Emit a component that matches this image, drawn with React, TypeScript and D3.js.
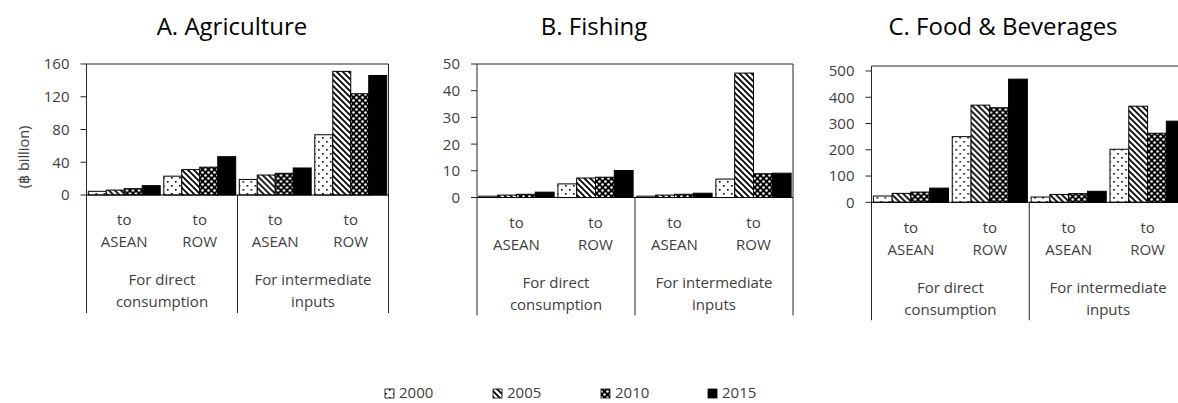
import React from "react";
import * as d3 from "d3";

const years = ["2000", "2005", "2010", "2015"];
const subCategories = ["to ASEAN (direct)", "to ROW (direct)", "to ASEAN (inter)", "to ROW (inter)"];
const subLabels = [["to", "ASEAN"], ["to", "ROW"], ["to", "ASEAN"], ["to", "ROW"]];
const groupLabels = [["For direct", "consumption"], ["For intermediate", "inputs"]];

const agricultureValues = [
  [4.5, 6, 7.7, 11.4],
  [23, 31, 34, 46.8],
  [19, 24.4, 26.5, 33],
  [73.6, 151, 123.7, 146],
];
const fishingValues = [
  [0.5, 0.9, 1.2, 2.0],
  [5.1, 7.3, 7.6, 10.1],
  [0.5, 0.9, 1.2, 1.6],
  [6.9, 46.6, 8.9, 9.1],
];
const foodValues = [
  [24, 34, 39, 54],
  [250, 370, 360, 469],
  [20, 30, 33, 42],
  [202, 366, 263, 309],
];

const agricultureTicks = [0, 40, 80, 120, 160];
const fishingTicks = [0, 10, 20, 30, 40, 50];
const foodTicks = [0, 100, 200, 300, 400, 500];

const panelTitles = ["A. Agriculture", "B. Fishing", "C. Food & Beverages"];
const yAxisLabel = "(฿ billion)";

const FONT = "'Open Sans', 'DejaVu Sans', sans-serif";

const panels = [
  { title: panelTitles[0], values: agricultureValues, ticks: agricultureTicks, left: 86.5, right: 388.5, frameTop: 64, yZero: 195, yMaxPx: 64, titleX: 232 },
  { title: panelTitles[1], values: fishingValues, ticks: fishingTicks, left: 477, right: 793, frameTop: 64, yZero: 197.5, yMaxPx: 64, titleX: 594 },
  { title: panelTitles[2], values: foodValues, ticks: foodTicks, left: 871.5, right: 1187, frameTop: 66, yZero: 202.3, yMaxPx: 71, titleX: 1003 },
];

const fills = ["url(#p2000)", "url(#p2005)", "url(#p2010)", "#000"];

function Panel({ p }: { p: any }) {
  const x0 = d3.scaleBand<string>().domain(subCategories).range([p.left, p.right]).paddingInner(0).paddingOuter(0);
  const x1 = d3.scaleBand<string>().domain(years).range([0, x0.bandwidth()]).paddingInner(0).paddingOuter(0.1);
  const yMax = p.ticks[p.ticks.length - 1];
  const y = d3.scaleLinear().domain([0, yMax]).range([p.yZero, p.yMaxPx]);
  const bottom = p.yZero + 118;
  const mid = (p.left + p.right) / 2;
  const lineColor = "#262626";
  const labelSize = 15;
  return (
    <g>
      <text x={p.titleX} y={35} textAnchor="middle" fontSize={24} fill="#000" fontFamily={FONT}>{p.title}</text>
      <line x1={p.left} x2={p.right} y1={p.frameTop} y2={p.frameTop} stroke={lineColor} strokeWidth={1} />
      <line x1={p.left} x2={p.left} y1={p.frameTop} y2={bottom} stroke={lineColor} strokeWidth={1} />
      <line x1={p.right} x2={p.right} y1={p.frameTop} y2={bottom} stroke={lineColor} strokeWidth={1} />
      <line x1={mid} x2={mid} y1={p.yZero} y2={bottom} stroke={lineColor} strokeWidth={1} />
      {p.ticks.map((t: number) => (
        <g key={t}>
          <line x1={p.left - 6} x2={p.left} y1={y(t)} y2={y(t)} stroke={lineColor} strokeWidth={1} />
          <text x={p.left - 17} y={y(t)} dy="0.36em" textAnchor="end" fontSize={15} fill="#404040" fontFamily={FONT}>{t}</text>
        </g>
      ))}
      {p.values.map((row: number[], ci: number) => (
        <g key={ci} transform={`translate(${x0(subCategories[ci])},0)`}>
          {row.map((v: number, yi: number) => (
            <rect key={yi} x={x1(years[yi])} y={y(v)} width={x1.bandwidth()} height={p.yZero - y(v)} fill={fills[yi]} stroke="#000" strokeWidth={1} />
          ))}
        </g>
      ))}
      <line x1={p.left} x2={p.right} y1={p.yZero} y2={p.yZero} stroke="#000" strokeWidth={1} />
      {subCategories.map((c, ci) => (
        <g key={c}>
          <text x={(x0(c) as number) + x0.bandwidth() / 2} y={p.yZero + 25} dy="0.36em" textAnchor="middle" fontSize={labelSize} fill="#404040" fontFamily={FONT}>{subLabels[ci][0]}</text>
          <text x={(x0(c) as number) + x0.bandwidth() / 2} y={p.yZero + 47} dy="0.36em" textAnchor="middle" fontSize={labelSize} fill="#404040" fontFamily={FONT}>{subLabels[ci][1]}</text>
        </g>
      ))}
      {groupLabels.map((g, gi) => {
        const cx = gi === 0 ? (p.left + mid) / 2 : (mid + p.right) / 2;
        return (
          <g key={gi}>
            <text x={cx} y={p.yZero + 85} dy="0.36em" textAnchor="middle" fontSize={labelSize} fill="#404040" fontFamily={FONT}>{g[0]}</text>
            <text x={cx} y={p.yZero + 107} dy="0.36em" textAnchor="middle" fontSize={labelSize} fill="#404040" fontFamily={FONT}>{g[1]}</text>
          </g>
        );
      })}
    </g>
  );
}

export default function App() {
  const legendX = [385, 493, 601, 708];
  return (
    <svg width={1178} height={403} style={{ position: "absolute", left: 0, top: 0, background: "#fff" }}>
      <defs>
        <pattern id="p2000" patternUnits="userSpaceOnUse" width={8} height={8}>
          <rect width={8} height={8} fill="#fff" />
          <rect x={1} y={1} width={1.6} height={1.6} fill="#000" />
          <rect x={5} y={5} width={1.6} height={1.6} fill="#000" />
        </pattern>
        <pattern id="p2005" patternUnits="userSpaceOnUse" width={6} height={6}>
          <rect width={6} height={6} fill="#fff" />
          <path d="M-1,-1 L7,7 M-1,5 L1,7 M5,-1 L7,1" stroke="#000" strokeWidth={1.8} />
        </pattern>
        <pattern id="p2010" patternUnits="userSpaceOnUse" width={6} height={6}>
          <rect width={6} height={6} fill="#000" />
          <circle cx={1.5} cy={1.5} r={1.3} fill="#fff" />
          <circle cx={4.5} cy={4.5} r={1.3} fill="#fff" />
        </pattern>
      </defs>
      <rect width={1178} height={403} fill="#fff" />
      <text transform="translate(29,157) rotate(-90)" textAnchor="middle" fontSize={14.5} fill="#404040" fontFamily={FONT}>{yAxisLabel}</text>
      {panels.map((p, i) => <Panel key={i} p={p} />)}
      {years.map((yr, i) => (
        <g key={yr}>
          <rect x={legendX[i]} y={389} width={9} height={9} fill={fills[i]} stroke="#000" strokeWidth={0.8} />
          <text x={legendX[i] + 14} y={398} fontSize={15} fill="#404040" fontFamily={FONT}>{yr}</text>
        </g>
      ))}
    </svg>
  );
}
